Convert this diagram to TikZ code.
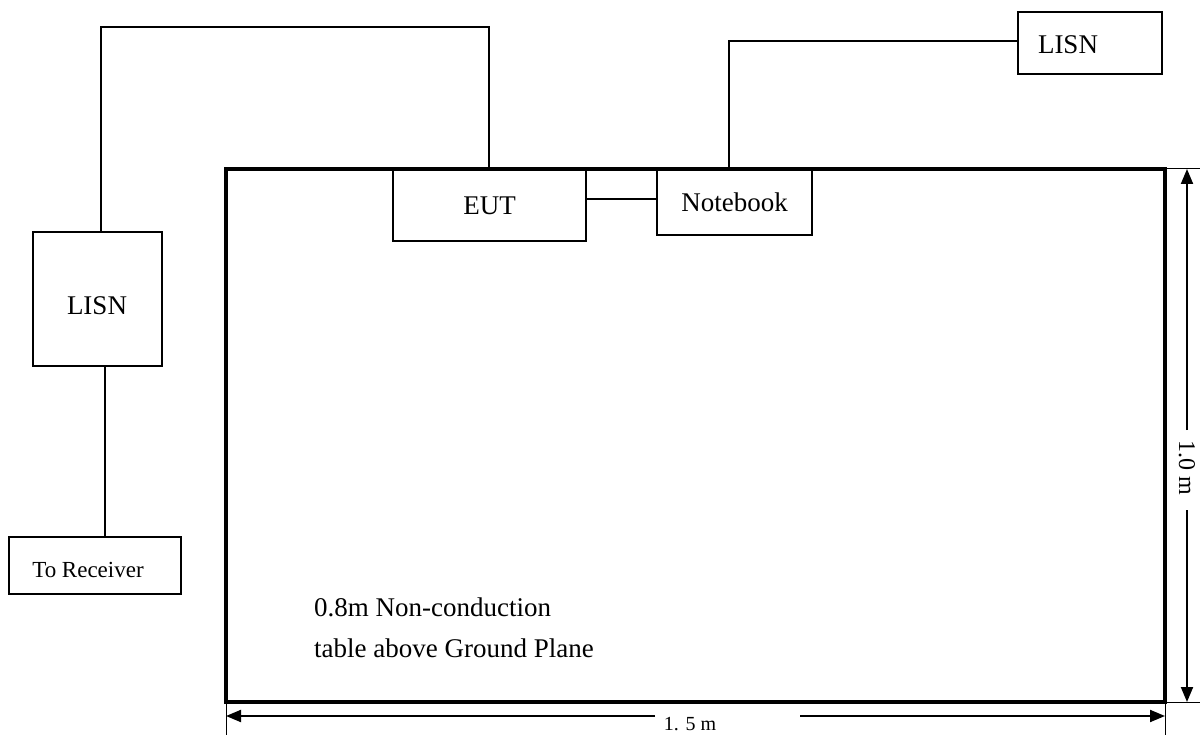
\documentclass[tikz,border=0pt]{standalone}
\usepackage{fontspec}
\setmainfont{Liberation Serif}
\usetikzlibrary{arrows.meta}
\begin{document}
\begin{tikzpicture}[x=1pt,y=-1pt,
  box/.style={draw,line width=2pt,rectangle,inner sep=0pt,font=\fontsize{27}{32}\selectfont},
  wire/.style={line width=2pt},
  ext/.style={line width=1pt},
  dim/.style={line width=2pt,-{Triangle[length=15pt,width=12pt]}},
  lbl/.style={inner sep=0pt,font=\fontsize{27}{32}\selectfont}]
\useasboundingbox (0,0) rectangle (1200,735);
% table
\draw[line width=4pt] (226,169) coordinate (tl) rectangle (1165,702) coordinate (br);
\coordinate (tr) at (1165,169);
\coordinate (bl) at (226,702);
% boxes
\node[box,minimum width=129pt,minimum height=134pt] (lisnL) at (97.5,299) {};
\node[lbl] (lisnLt) at (97,306) {LISN};
\node[box,minimum width=172pt,minimum height=57pt] (rx) at (95,565.5) {};
\node[lbl,font=\fontsize{23}{28}\selectfont] (rxt) at (88,570) {To Receiver};
\node[box,minimum width=193pt,minimum height=71pt] (eut) at (489.5,205.5) {EUT};
\node[box,minimum width=155pt,minimum height=65pt] (nb) at (734.5,202.5) {Notebook};
\node[box,minimum width=144pt,minimum height=62pt] (lisnR) at (1090,43) {};
\node[lbl] (lisnRt) at (1068,45) {LISN};
% wires
\coordinate (w1) at (101,27);
\coordinate (w2) at (489,27);
\draw[wire] (lisnL.north -| w1) -- (w1) -- (w2) -- (eut.north -| w2);
\coordinate (n1) at (729,41);
\draw[wire] (nb.north -| n1) -- (n1) -- (lisnR.west |- n1);
\coordinate (r1) at (105,0);
\draw[wire] (lisnL.south -| r1) -- (rx.north -| r1);
\draw[wire] (eut.east |- 0,199) -- (nb.west |- 0,199);
% text
\node[lbl,anchor=west] (t1) at (314,607) {0.8m Non-conduction};
\node[lbl,anchor=west] (t2) at (314,648) {table above Ground Plane};
% vertical dimension
\draw[ext] (tr) -- (1200,169) coordinate (vx1);
\draw[ext] (br) -- (1200,702) coordinate (vx2);
\coordinate (vt) at (1187,169);
\coordinate (vb) at (1187,702);
\coordinate (vg1) at (1187,430);
\coordinate (vg2) at (1187,510);
\node[lbl,rotate=-90,font=\fontsize{24}{28}\selectfont] (vlab) at (1187,468) {1.0 m};
\draw[dim] (vg1) -- (vt);
\draw[dim] (vg2) -- (vb);
% horizontal dimension
\draw[ext] (bl) -- (226,735) coordinate (hx1);
\draw[ext] (br) -- (1165,735) coordinate (hx2);
\coordinate (hl) at (226,716);
\coordinate (hr) at (1165,716);
\coordinate (hg1) at (655,716);
\coordinate (hg2) at (800,716);
\node[lbl,font=\fontsize{20}{24}\selectfont] (hlab) at (690,724) {1. 5 m};
\draw[dim] (hg1) -- (hl);
\draw[dim] (hg2) -- (hr);
\end{tikzpicture}
\end{document}
